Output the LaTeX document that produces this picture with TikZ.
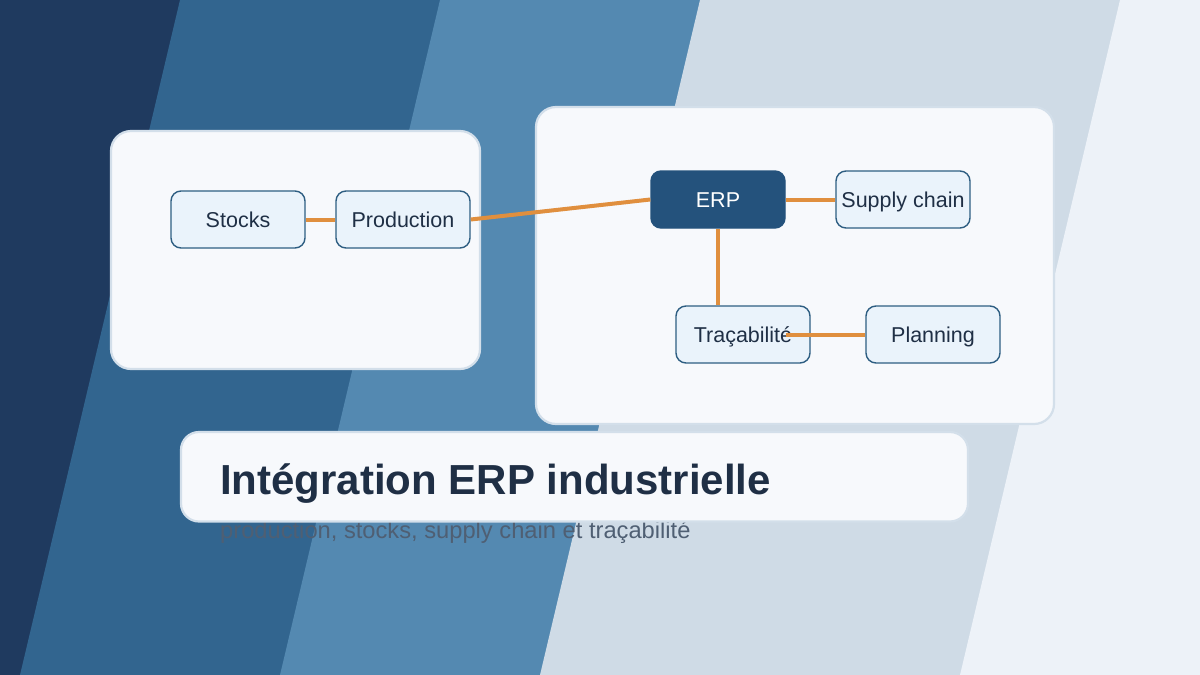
\documentclass[tikz,border=0pt]{standalone}
\usepackage{fontspec}
\setmainfont{Liberation Sans}
\usetikzlibrary{positioning}

\definecolor{navy}{HTML}{1F3A5F}
\definecolor{steel}{HTML}{32658F}
\definecolor{midblue}{HTML}{5489B1}
\definecolor{paleblue}{HTML}{CFDBE6}
\definecolor{frost}{HTML}{EDF2F8}
\definecolor{panelfill}{HTML}{F7F9FC}
\definecolor{panelline}{HTML}{D3DFEA}
\definecolor{boxfill}{HTML}{EAF3FB}
\definecolor{boxline}{HTML}{2E5E82}
\definecolor{erpfill}{HTML}{24527C}
\definecolor{linkorange}{HTML}{E08F3E}
\definecolor{inktext}{HTML}{1F2F45}
\definecolor{subgray}{HTML}{4F5F73}

\def\boxwidth{134}
\def\boxheight{57}
\def\slant{160}

\begin{document}
\begin{tikzpicture}[x=1pt,y=-1pt,
        panel/.style={draw=panelline,fill=panelfill,line width=2.2pt,rounded corners=20pt},
        module/.style={%
            draw=boxline,fill=boxfill,line width=1.4pt,
            rounded corners=10pt,
            text=inktext,font=\fontsize{21.5}{24}\selectfont,
            text height=15pt,text depth=0pt,
            minimum width=\boxwidth pt,
            minimum height=\boxheight pt,
            inner sep=0pt,
        },
        core/.style={module,fill=erpfill,draw=erpfill,text=white},
        link/.style={linkorange,line width=4pt},
    ]
    \useasboundingbox (0,0) rectangle (1200,675);
    % slanted background bands
    \fill[navy] (0,0) rectangle (1200,675);
    \fill[steel] (180,0) -- (1200,0) -- (1200,675) -- (180-\slant,675) -- cycle;
    \fill[midblue] (440,0) -- (1200,0) -- (1200,675) -- (440-\slant,675) -- cycle;
    \fill[paleblue] (700,0) -- (1200,0) -- (1200,675) -- (700-\slant,675) -- cycle;
    \fill[frost] (1120,0) -- (1200,0) -- (1200,675) -- (1120-\slant,675) -- cycle;

    % the two cards
    \draw[panel] (111,131) rectangle (480,369);
    \draw[panel] (536,107) rectangle (1054,424);

    % modules
    \node[module] (stocks) at (238,219.5) {Stocks};
    \node[module] (prod) at (403,219.5) {Production};
    \node[core] (erp) at (718,199.5) {ERP};
    \node[module] (supply) at (903,199.5) {Supply chain};
    \node[module] (trace) at (743,334.5) {Traçabilité};
    \node[module] (plan) at (933,334.5) {Planning};

    % links
    \draw[link] (stocks) -- (prod);
    \draw[link] (prod.east) -- (erp.west);
    \draw[link] (erp) -- (supply);
    \draw[link] (erp.south) -- (erp.south |- trace.north);
    \draw[link] ([xshift=-25pt]trace.east) -- (plan.west);

    % caption
    \node[anchor=base west,inner sep=0pt,text=subgray,
        font=\fontsize{23.7}{26}\selectfont] (subtitle) at (220,538)
        {production, stocks, supply chain et traçabilité};
    \draw[panel,rounded corners=18pt] (181,432) rectangle (968,521.5);
    \node[anchor=base west,inner sep=0pt,text=inktext,
        font=\bfseries\fontsize{42}{46}\selectfont] (title) at (220,494)
        {Intégration ERP industrielle};
\end{tikzpicture}
\end{document}
